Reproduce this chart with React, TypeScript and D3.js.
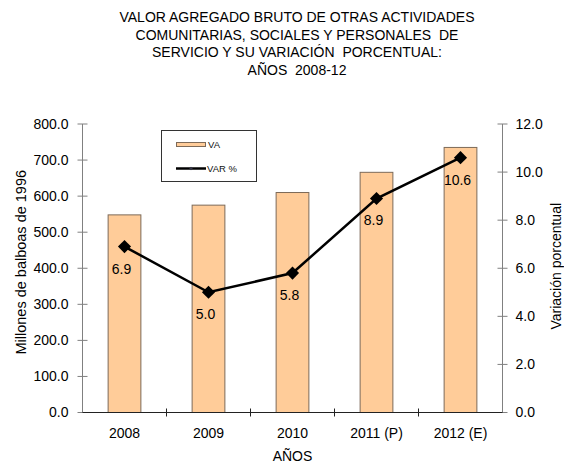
import React, { useEffect, useRef } from 'react'
import * as d3 from 'd3'

// Chart data
const years = ['2008', '2009', '2010', '2011 (P)', '2012 (E)']
const vaValues = [548, 575, 610, 666, 735]
const varValues = [6.9, 5.0, 5.8, 8.9, 10.6]
const leftTicks = [0, 100, 200, 300, 400, 500, 600, 700, 800]
const rightTicks = [0, 2, 4, 6, 8, 10, 12]
const titleLines = [
  'VALOR AGREGADO BRUTO DE OTRAS ACTIVIDADES',
  'COMUNITARIAS, SOCIALES Y PERSONALES  DE',
  'SERVICIO Y SU VARIACIÓN  PORCENTUAL:',
  'AÑOS  2008-12',
]

const W = 564
const H = 466
const FONT = 'Liberation Sans, Arial, sans-serif'

const App = () => {
  const svgRef = useRef(null)

  useEffect(() => {
    const svg = d3.select(svgRef.current)
    svg.selectAll('*').remove()

    const left = 82.5
    const right = 502.5
    const top = 124
    const bottom = 412.5

    const x = d3.scaleBand().domain(years).range([left, right]).padding(0)
    const yL = d3.scaleLinear().domain([0, 800]).range([bottom, top])
    const yR = d3.scaleLinear().domain([0, 12]).range([bottom, top])
    const barW = x.bandwidth() * 0.39

    svg.append('rect').attr('width', W).attr('height', H).attr('fill', '#fff')

    // Title (double spaces kept as in the source)
    const title = svg.append('text')
      .attr('x', 297)
      .attr('text-anchor', 'middle')
      .style('font-family', FONT)
      .style('font-size', '14px')
      .style('white-space', 'pre')
      .style('fill', '#000')
    titleLines.forEach((t, i) => {
      title.append('tspan').attr('x', 297).attr('y', 22 + i * 17.6).text(t)
    })

    // Bars
    svg.selectAll('rect.bar')
      .data(vaValues)
      .enter()
      .append('rect')
      .attr('class', 'bar')
      .attr('x', (d, i) => x(years[i]) + x.bandwidth() / 2 - barW / 2)
      .attr('y', d => yL(d))
      .attr('width', barW)
      .attr('height', d => bottom - yL(d))
      .style('fill', '#FFCC99')
      .style('stroke', '#7d6a58')
      .style('stroke-width', 1)

    // Left axis
    svg.append('line')
      .attr('x1', left).attr('x2', left).attr('y1', top).attr('y2', bottom)
      .style('stroke', '#808080')
    leftTicks.forEach(t => {
      svg.append('line')
        .attr('x1', left - 5).attr('x2', left + 5)
        .attr('y1', yL(t)).attr('y2', yL(t))
        .style('stroke', '#808080')
      svg.append('text')
        .attr('x', left - 14).attr('y', yL(t)).attr('dy', '0.35em')
        .attr('text-anchor', 'end')
        .style('font-family', FONT).style('font-size', '14px').style('fill', '#000')
        .text(t.toFixed(1))
    })

    // Right axis
    svg.append('line')
      .attr('x1', right).attr('x2', right).attr('y1', top).attr('y2', bottom)
      .style('stroke', '#808080')
    rightTicks.forEach(t => {
      svg.append('line')
        .attr('x1', right - 5).attr('x2', right + 5)
        .attr('y1', yR(t)).attr('y2', yR(t))
        .style('stroke', '#808080')
      svg.append('text')
        .attr('x', right + 13).attr('y', yR(t)).attr('dy', '0.35em')
        .attr('text-anchor', 'start')
        .style('font-family', FONT).style('font-size', '14px').style('fill', '#000')
        .text(t.toFixed(1))
    })

    // Bottom axis
    svg.append('line')
      .attr('x1', left).attr('x2', right).attr('y1', bottom).attr('y2', bottom)
      .style('stroke', '#222')
    years.forEach((yr, i) => {
      if (i > 0) {
        svg.append('line')
          .attr('x1', x(yr)).attr('x2', x(yr))
          .attr('y1', bottom - 4).attr('y2', bottom + 4)
          .style('stroke', '#222')
      }
      svg.append('text')
        .attr('x', x(yr) + x.bandwidth() / 2).attr('y', bottom + 21).attr('dy', '0.35em')
        .attr('text-anchor', 'middle')
        .style('font-family', FONT).style('font-size', '14px').style('fill', '#000')
        .text(yr)
    })

    // Axis titles
    svg.append('text')
      .attr('transform', `translate(21,${(top + bottom) / 2 - 6}) rotate(-90)`)
      .attr('text-anchor', 'middle').attr('dy', '0.35em')
      .style('font-family', FONT).style('font-size', '14.5px').style('fill', '#000')
      .text('Millones de balboas de 1996')
    svg.append('text')
      .attr('transform', `translate(556,${(top + bottom) / 2 - 2}) rotate(-90)`)
      .attr('text-anchor', 'middle').attr('dy', '0.35em')
      .style('font-family', FONT).style('font-size', '14px').style('fill', '#000')
      .text('Variación porcentual')
    svg.append('text')
      .attr('x', (left + right) / 2).attr('y', 456.5).attr('dy', '0.35em')
      .attr('text-anchor', 'middle')
      .style('font-family', FONT).style('font-size', '14px').style('fill', '#000')
      .text('AÑOS')

    // Line
    const cx = (i: number) => x(years[i]) + x.bandwidth() / 2
    const line = d3.line<number>()
      .x((d, i) => cx(i))
      .y(d => yR(d))
    svg.append('path')
      .attr('d', line(varValues))
      .style('fill', 'none')
      .style('stroke', '#000')
      .style('stroke-width', 2.5)

    const diamond = d3.symbol().type(d3.symbolDiamond2).size(110)
    varValues.forEach((v, i) => {
      svg.append('path')
        .attr('d', diamond())
        .attr('transform', `translate(${cx(i)},${yR(v)})`)
        .style('fill', '#000')
      svg.append('text')
        .attr('x', cx(i) - 3).attr('y', yR(v) + 22).attr('dy', '0.35em')
        .attr('text-anchor', 'middle')
        .style('font-family', FONT).style('font-size', '14px').style('fill', '#000')
        .text(v.toFixed(1))
    })

    // Legend
    const lg = svg.append('g')
    lg.append('rect')
      .attr('x', 161.5).attr('y', 130.5).attr('width', 95).attr('height', 51)
      .style('fill', '#fff').style('stroke', '#333')
    lg.append('rect')
      .attr('x', 176.5).attr('y', 142.5).attr('width', 29).attr('height', 4)
      .style('fill', '#FFCC99').style('stroke', '#7d6a58')
    lg.append('text')
      .attr('x', 208).attr('y', 144.5).attr('dy', '0.35em')
      .style('font-family', FONT).style('font-size', '9.5px').style('fill', '#111')
      .text('VA')
    lg.append('line')
      .attr('x1', 176).attr('x2', 206).attr('y1', 168.5).attr('y2', 168.5)
      .style('stroke', '#000').style('stroke-width', 2.5)
    lg.append('path')
      .attr('d', d3.symbol().type(d3.symbolDiamond2).size(8)())
      .attr('transform', 'translate(191,168.5)')
      .style('fill', '#334')
    lg.append('text')
      .attr('x', 207).attr('y', 168.5).attr('dy', '0.35em')
      .style('font-family', FONT).style('font-size', '9.5px').style('fill', '#111')
      .text('VAR %')
  }, [])

  return (
    <svg
      ref={svgRef}
      width={W}
      height={H}
      style={{ position: 'absolute', left: 0, top: 0, display: 'block' }}
    />
  )
}

export default App
